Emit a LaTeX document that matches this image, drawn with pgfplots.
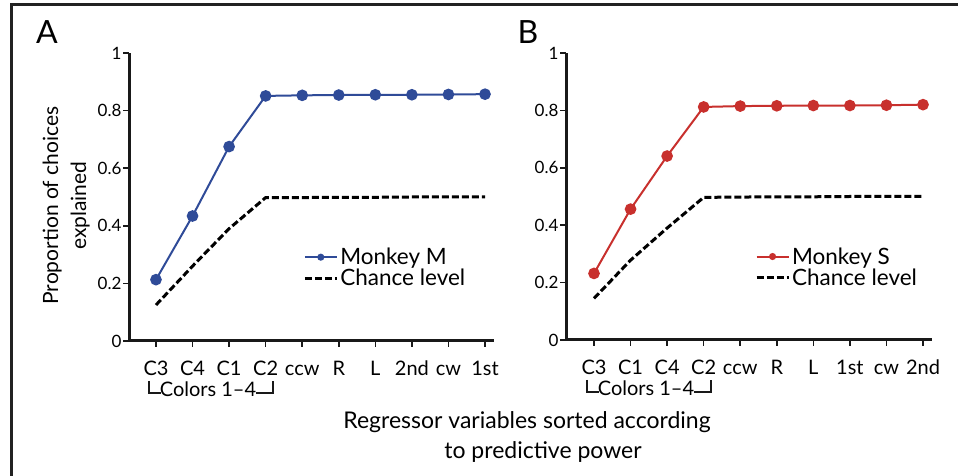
\documentclass[border=0pt]{standalone}
\usepackage{pgfplots}
\pgfplotsset{compat=1.18}
\usepackage{fontspec}
\setmainfont{Lato}
\definecolor{mblue}{HTML}{2F4B98}
\definecolor{mred}{HTML}{C8302D}
\definecolor{frm}{HTML}{222222}
\newcommand{\fs}[1]{\fontsize{#1}{#1}\selectfont}

\pgfplotsset{
 panel/.style={
  scale only axis,
  ymin=0, ymax=1,
  axis x line*=bottom, axis y line*=left,
  axis line style={line width=3pt, black!90},
  ytick={0,0.2,0.4,0.6,0.8,1},
  yticklabels={0,0.2,0.4,0.6,0.8,1},
  xtick={0,...,9},
  tick style={line width=1.5pt, black!90},
  major tick length=6pt,
  tick align=outside,
  yticklabel style={font=\fs{17}, xshift=2pt},
  xticklabel style={font=\fs{20}, anchor=base, yshift=-29pt},
  legend image code/.code={\draw[mark repeat=2, mark phase=2, ##1] plot coordinates {(0pt,0pt)(16pt,0pt)(32pt,0pt)};},
  legend image post style={mark size=2.5pt},
  legend style={draw=none, fill=none, font=\fs{22.5}, anchor=north west, row sep=-1pt, inner sep=0pt, nodes={inner sep=2pt}},
  legend cell align=left,
  clip=false,
 },
 mline/.style={line width=2pt, mark=*, mark size=4.8pt},
 chance/.style={black, line width=3pt, dash pattern=on 7pt off 3pt},
}

\begin{document}
\begin{tikzpicture}
\path[use as bounding box] (0pt,0pt) rectangle (958pt,476pt);
\draw[frm, line width=3pt] (11pt,0pt) -- (11pt,471pt) -- (958pt,471pt);

\begin{axis}[panel, at={(129pt,135pt)}, anchor=south west,
  width=365pt, height=288pt, xmin=-0.738, xmax=9.246,
  xticklabels={C3,C4,C1,C2,ccw,R,L,2nd,cw,1st},
  ylabel={Proportion of choices\\[7pt]explained},
  ylabel style={at={(axis description cs:-0.172,0.47)}, anchor=center, align=center, font=\fs{21}},
  legend style={at={(axis description cs:0.477,0.33)}},
]
\addplot[mline, color=mblue, mark options={fill=mblue, draw=mblue}] coordinates {
 (0,0.213) (1,0.434) (2,0.675) (3,0.851) (4,0.853) (5,0.854) (6,0.855) (7,0.855) (8,0.856) (9,0.857)};
\addlegendentry{Monkey M}
\addplot[chance] coordinates {
 (0,0.125) (1,0.26) (2,0.39) (3,0.498) (4,0.498) (5,0.499) (6,0.499) (7,0.5) (8,0.5) (9,0.5)};
\addlegendentry{Chance level}
\end{axis}

\begin{axis}[panel, at={(566pt,136pt)}, anchor=south west,
  width=366pt, height=287pt, xmin=-0.766, xmax=9.246,
  xticklabels={C3,C1,C4,C2,ccw,R,L,1st,cw,2nd},
  legend style={at={(axis description cs:0.516,0.33)}},
]
\addplot[mline, color=mred, mark options={fill=mred, draw=mred}] coordinates {
 (0,0.232) (1,0.456) (2,0.641) (3,0.812) (4,0.815) (5,0.816) (6,0.817) (7,0.817) (8,0.818) (9,0.820)};
\addlegendentry{Monkey S}
\addplot[chance] coordinates {
 (0,0.145) (1,0.278) (2,0.39) (3,0.497) (4,0.498) (5,0.499) (6,0.499) (7,0.5) (8,0.5) (9,0.5)};
\addlegendentry{Chance level}
\end{axis}

% bracket annotations
\draw[black!90, line width=2.5pt] (149pt,95pt) -- (149pt,83pt) -- (161pt,83pt);
\draw[black!90, line width=2.5pt] (256pt,83pt) -- (273pt,83pt) -- (273pt,95pt);
\node[font=\fs{20}, anchor=base, inner sep=0pt] at (208pt,79pt) {Colors 1–4};
\draw[black!90, line width=2.5pt] (587pt,96pt) -- (587pt,84pt) -- (599pt,84pt);
\draw[black!90, line width=2.5pt] (694pt,84pt) -- (711pt,84pt) -- (711pt,96pt);
\node[font=\fs{20}, anchor=base, inner sep=0pt] at (646pt,80pt) {Colors 1–4};

% panel letters
\node[font=\fs{32}, inner sep=0pt] at (47pt,444pt) {A};
\node[font=\fs{32}, inner sep=0pt] at (528pt,444pt) {B};

% x label
\node[font=\fs{23}, inner sep=0pt, anchor=base] at (527pt,47pt) {Regressor variables sorted according};
\node[font=\fs{23}, inner sep=0pt, anchor=base] at (543pt,17pt) {to predictive power};
\end{tikzpicture}
\end{document}
